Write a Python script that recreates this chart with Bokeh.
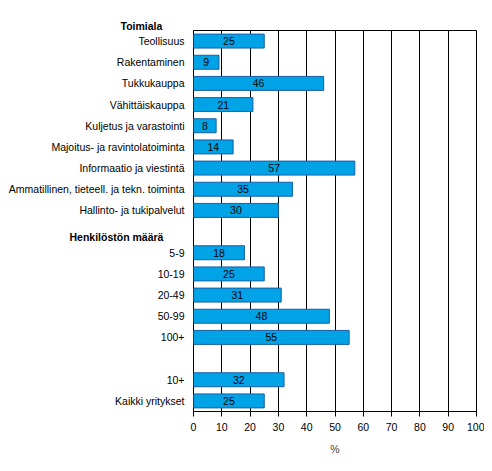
from bokeh.core.properties import value
from bokeh.embed import file_html
from bokeh.layouts import row
from bokeh.models import ColumnDataSource, FixedTicker, Range1d
from bokeh.plotting import figure
from bokeh.resources import INLINE

# data
toimiala = ['Teollisuus', 'Rakentaminen', 'Tukkukauppa', 'Vähittäiskauppa',
            'Kuljetus ja varastointi', 'Majoitus- ja ravintolatoiminta',
            'Informaatio ja viestintä', 'Ammatillinen, tieteell. ja tekn. toiminta',
            'Hallinto- ja tukipalvelut']
toimiala_val = [25, 9, 46, 21, 8, 14, 57, 35, 30]

henkilosto = ['5-9', '10-19', '20-49', '50-99', '100+']
henkilosto_val = [18, 25, 31, 48, 55]

yhteensa = ['10+', 'Kaikki yritykset']
yhteensa_val = [32, 25]

otsikot = ['Toimiala', 'Henkilöstön määrä']

x_ticks = [0, 10, 20, 30, 40, 50, 60, 70, 80, 90, 100]

FONT = 'Liberation Sans'
FS = '10.5px'
H = 463
TOP = 30
BOTTOM = 52
LEFT_W = 186

# rivit: otsikko, toimialat, otsikko, henkilöstö, tyhjä rivi, yhteensä
labels, vals, pos, head_pos = [], [], [], []
r = 0
head_pos.append(r)
r += 1
for c, v in zip(toimiala, toimiala_val):
    labels.append(c); vals.append(v); pos.append(r); r += 1
head_pos.append(r)
r += 1
for c, v in zip(henkilosto, henkilosto_val):
    labels.append(c); vals.append(v); pos.append(r); r += 1
r += 1
for c, v in zip(yhteensa, yhteensa_val):
    labels.append(c); vals.append(v); pos.append(r); r += 1
n_rows = r - 1

src = ColumnDataSource(dict(y=pos, v=vals, mid=[v / 2 for v in vals],
                            txt=[str(v) for v in vals], lab=labels))
y_range = Range1d(n_rows + 0.5, 0.5)

# oikea kuva: pylväät
p = figure(width=484 - LEFT_W, height=H, output_backend="svg", toolbar_location=None,
           x_range=Range1d(0, 100), y_range=y_range,
           y_axis_location=None,
           min_border_left=7, min_border_right=8, min_border_top=TOP,
           min_border_bottom=BOTTOM, x_axis_label='%')

p.hbar(y='y', right='v', left=0, height=0.66, source=src,
       fill_color='#00A3E6', line_color='#1B5FA6', line_width=1)
p.text(x='mid', y='y', text='txt', source=src, text_align='center',
       text_baseline='middle', text_font=value(FONT), text_font_size=FS,
       text_color='black')

p.xaxis.ticker = FixedTicker(ticks=x_ticks)
p.xaxis.major_tick_out = 5
p.xaxis.major_tick_in = 0
p.xaxis.minor_tick_line_color = None
p.xaxis.axis_line_color = 'black'
p.xaxis.major_tick_line_color = 'black'
p.xaxis.major_label_text_font = FONT
p.xaxis.major_label_text_font_size = FS
p.xaxis.major_label_text_color = 'black'
p.xaxis.major_label_standoff = 6
p.xaxis.axis_label_text_font = FONT
p.xaxis.axis_label_text_font_size = FS
p.xaxis.axis_label_text_font_style = 'normal'
p.xaxis.axis_label_standoff = 9

p.xgrid.ticker = FixedTicker(ticks=x_ticks)
p.xgrid.grid_line_color = 'black'
p.xgrid.grid_line_width = 1
p.ygrid.grid_line_color = None
p.outline_line_color = 'black'
p.background_fill_color = 'white'
p.border_fill_color = 'white'

# vasen kuva: luokkien nimet ja otsikot
lab = figure(width=LEFT_W, height=H, output_backend="svg", toolbar_location=None,
             x_range=Range1d(0, LEFT_W), y_range=y_range, title=otsikot[0],
             x_axis_location=None, y_axis_location=None,
             min_border_left=0, min_border_right=0, min_border_top=TOP,
             min_border_bottom=BOTTOM)
lab.grid.grid_line_color = None
lab.outline_line_color = None
lab.background_fill_color = 'white'
lab.border_fill_color = 'white'
lab.title.align = 'left'
lab.title.offset = 120
lab.title.standoff = -3
lab.title.text_font = FONT
lab.title.text_font_size = FS
lab.title.text_font_style = 'bold'
lab.title.text_color = 'black'

lab.text(x=LEFT_W - 2, y='y', text='lab', source=src, text_align='right',
         text_baseline='middle', text_font=value(FONT), text_font_size=FS,
         text_color='black')
lab.text(x=[69], y=[head_pos[1] + 0.25], text=otsikot[1:],
         text_align='left', text_baseline='middle', text_font=value(FONT),
         text_font_size=FS, text_font_style='bold', text_color='black')

layout = row(lab, p)
open("out.html", "w").write(file_html(layout, INLINE))
